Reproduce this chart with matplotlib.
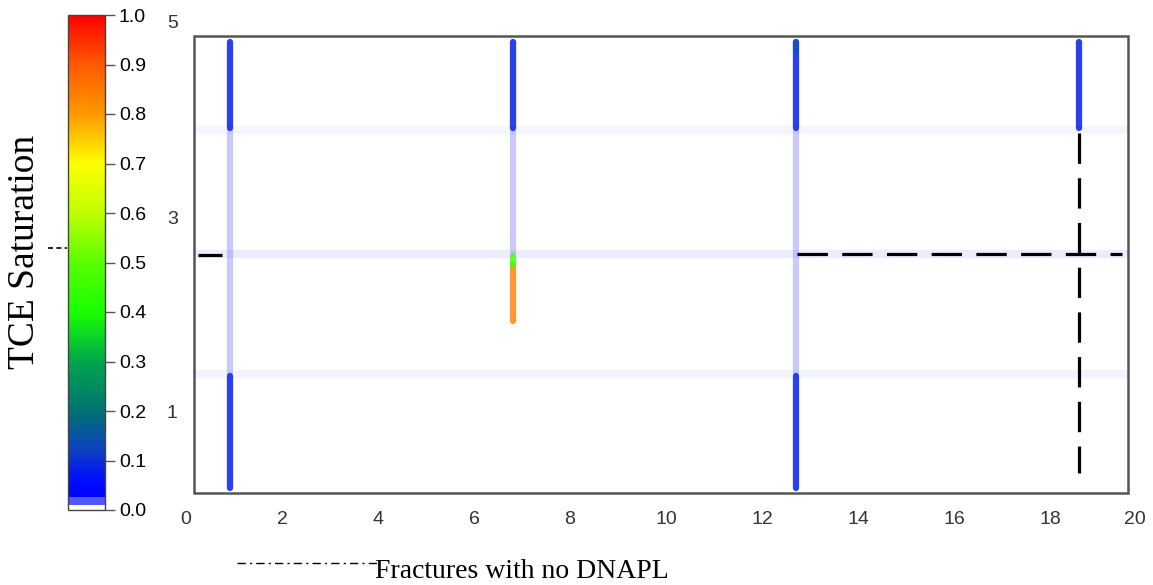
import matplotlib
matplotlib.use("Agg")
import matplotlib.pyplot as plt
import numpy as np
from matplotlib.colors import LinearSegmentedColormap, Normalize
from matplotlib.cm import ScalarMappable
from matplotlib.lines import Line2D
from matplotlib.patches import Rectangle

# ---------------- data ----------------
x_ticks = [0, 2, 4, 6, 8, 10, 12, 14, 16, 18, 20]
y_ticks = [1, 3, 5]
cbar_ticks = [0.0, 0.1, 0.2, 0.3, 0.4, 0.5, 0.6, 0.7, 0.8, 0.9, 1.0]

# vertical fractures (x positions) and horizontal fractures (y positions)
vert_fracture_x = [0.92, 6.81, 12.71, 18.6]
horiz_fracture_y = [3.89, 2.62, 1.39]
horiz_fracture_alpha = [0.06, 0.11, 0.07]

# faint (residual) vertical fracture pieces: x, y bottom, y top
faint_x = [0.92, 6.81, 12.71]
faint_y0 = [1.39, 2.62, 1.39]
faint_y1 = [3.89, 3.89, 3.89]

# DNAPL-saturated pieces: x, y bottom, y top, TCE saturation
sat_x = [0.92, 6.81, 12.71, 18.6, 0.92, 12.71, 6.81, 6.81, 12.71]
sat_y0 = [3.91, 3.91, 3.91, 3.91, 0.22, 0.22, 1.93, 2.51, 4.70]
sat_y1 = [4.80, 4.80, 4.80, 4.80, 1.37, 1.37, 2.51, 2.60, 4.80]
sat_val = [0.08, 0.08, 0.08, 0.08, 0.08, 0.08, 0.84, 0.45, 0.17]
sat_alpha = [0.85, 0.85, 0.85, 0.85, 0.85, 0.85, 0.8, 0.8, 0.45]

# fractures with no DNAPL (dashed): horizontal pieces and vertical piece
nodnapl_h_x0 = [0.25, 12.73]
nodnapl_h_x1 = [0.75, 19.5]
nodnapl_h_y = [2.61, 2.62]
nodnapl_v_x = [18.6]
nodnapl_v_y0 = [0.37]
nodnapl_v_y1 = [3.86]

# ---------------- colormap ----------------
cmap = LinearSegmentedColormap.from_list("tce", [
    (0.0, (1, 1, 1)), (0.0099, (1, 1, 1)),
    (0.01, (0.30, 0.35, 1.0)), (0.0249, (0.30, 0.35, 1.0)),
    (0.025, (0.0, 0.0, 1.0)), (0.06, (0.0, 0.05, 1.0)),
    (0.12, (0.05, 0.25, 0.75)), (0.2, (0.0, 0.45, 0.45)),
    (0.3, (0.0, 0.65, 0.3)), (0.4, (0.1, 1.0, 0.0)),
    (0.5, (0.35, 1.0, 0.0)), (0.6, (0.75, 1.0, 0.0)),
    (0.7, (1.0, 1.0, 0.0)), (0.8, (1.0, 0.6, 0.0)),
    (0.9, (1.0, 0.35, 0.0)), (1.0, (1.0, 0.0, 0.0))], N=1024)
norm = Normalize(0, 1)

W, H = 1153, 585
fig = plt.figure(figsize=(W / 100, H / 100), dpi=100)

# main axes: data 0..20 -> px 186..1146, data 0..5 -> px 509.5..22
ax = fig.add_axes([186 / W, (H - 509.5) / H, 960 / W, 487.5 / H])
ax.set_xlim(0, 20)
ax.set_ylim(0, 5)
for s in ax.spines.values():
    s.set_visible(False)
ax.set_xticks(x_ticks)
ax.set_yticks(y_ticks)
ax.tick_params(length=0, labelsize=14, labelcolor="#333333")
ax.tick_params(axis="x", pad=1)
ax.tick_params(axis="y", pad=6)
for lab in ax.get_xticklabels() + ax.get_yticklabels():
    lab.set_family("Liberation Sans")
ax.get_xticklabels()[-1].set_horizontalalignment("right")

# horizontal faint fractures
for y, a in zip(horiz_fracture_y, horiz_fracture_alpha):
    ax.plot([0.17, 19.62], [y, y], color=(0.35, 0.35, 1.0), alpha=a, lw=6,
            solid_capstyle="butt", zorder=1)

# faint vertical fractures
for x, y0, y1 in zip(faint_x, faint_y0, faint_y1):
    ax.plot([x, x], [y0, y1], color=(0.45, 0.45, 0.95), alpha=0.38, lw=4.5,
            solid_capstyle="butt", zorder=2)

# saturated pieces
for x, y0, y1, v, a in zip(sat_x, sat_y0, sat_y1, sat_val, sat_alpha):
    c = cmap(norm(v))
    ax.plot([x, x], [y0, y1], color=c, alpha=a, lw=4.5,
            solid_capstyle="round", zorder=3)

# dashed fractures with no DNAPL
for x0, x1, y in zip(nodnapl_h_x0, nodnapl_h_x1, nodnapl_h_y):
    ax.plot([x0, x1], [y, y], color="black", lw=2.3, linestyle=(0, (9.5, 4.5)),
            solid_capstyle="butt", zorder=5)
for x, y0, y1 in zip(nodnapl_v_x, nodnapl_v_y0, nodnapl_v_y1):
    ax.plot([x, x], [y1, y0], color="black", lw=2.3, linestyle=(0, (9.5, 4.5)),
            zorder=5)

# frame
ax.add_patch(Rectangle((0.167, 0.169), 19.46, 4.687, fill=False,
                       edgecolor="#555555", lw=1.8, zorder=6))

# colorbar
cax = fig.add_axes([68 / W, (H - 510) / H, 37 / W, 495 / H])
sm = ScalarMappable(norm=norm, cmap=cmap)
cb = fig.colorbar(sm, cax=cax, ticks=cbar_ticks)
cb.outline.set_edgecolor("#444444")
cb.outline.set_linewidth(1.0)
cax.tick_params(length=7, width=1, color="#555555", labelsize=14, pad=3)
cax.set_yticklabels([f"{t:.1f}" for t in cbar_ticks])
for lab in cax.get_yticklabels():
    lab.set_family("Liberation Sans")

fig.text(25 / W, 1 - 252 / H, "TCE Saturation", rotation=90, ha="center",
         va="center", fontsize=27, family="Liberation Serif")

# small dashed mark at the colorbar
fig.add_artist(Line2D([48 / W, 67 / W], [1 - 248 / H, 1 - 248 / H],
                      transform=fig.transFigure, color="black", lw=1.2,
                      linestyle=(0, (3, 2))))

# legend entry
fig.add_artist(Line2D([237 / W, 377 / W], [1 - 563 / H, 1 - 563 / H],
                      transform=fig.transFigure, color="black", lw=1.0,
                      linestyle=(0, (6, 3, 1.5, 3))))
fig.text(375 / W, 1 - 578 / H, "Fractures with no DNAPL", ha="left",
         va="baseline", fontsize=20, family="Liberation Serif")

fig.savefig("out.png", dpi=100)
